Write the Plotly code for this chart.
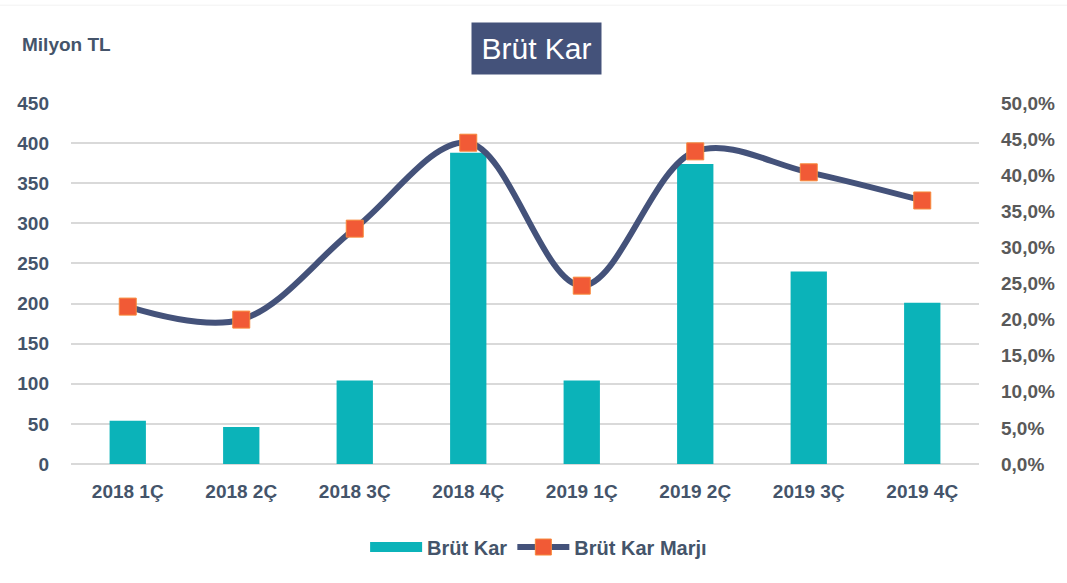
import plotly.graph_objects as go

categories = ["2018 1Ç", "2018 2Ç", "2018 3Ç", "2018 4Ç", "2019 1Ç", "2019 2Ç", "2019 3Ç", "2019 4Ç"]
brut_kar = [54, 46, 104, 388, 104, 374, 240, 201]
brut_kar_marji = [0.218, 0.200, 0.326, 0.445, 0.247, 0.433, 0.404, 0.365]
left_ticks = list(range(0, 451, 50))
right_ticks = [i / 100 for i in range(0, 51, 5)]

FONT = "Liberation Sans, Arial, sans-serif"
BLUEGRAY = "#44546A"
TEAL = "#0BB3B9"

fig = go.Figure()
fig.add_trace(go.Bar(
    x=categories, y=brut_kar, name="Brüt Kar",
    marker=dict(color=TEAL, line=dict(width=0)),
    yaxis="y", showlegend=False,
))
# legend entry styled as a wide teal swatch
fig.add_trace(go.Scatter(
    x=[None], y=[None], name="Brüt Kar", mode="lines",
    line=dict(color=TEAL, width=14), yaxis="y", showlegend=True,
))
fig.add_trace(go.Scatter(
    x=categories, y=brut_kar_marji, name="Brüt Kar Marjı",
    mode="lines+markers",
    line=dict(color="#44527A", width=6, shape="spline", smoothing=1.0),
    marker=dict(symbol="square", size=17, color="#F15A36", line=dict(color="#F7893B", width=1)),
    yaxis="y2",
))

fig.update_layout(
    width=1067, height=583,
    margin=dict(l=71, r=88, t=103, b=119, autoexpand=False),
    paper_bgcolor="white", plot_bgcolor="white",
    separators=",.",
    bargap=0.68,
    font=dict(family=FONT, size=19, color=BLUEGRAY),
    showlegend=True,
    legend=dict(
        orientation="h", x=0.515, xanchor="center", y=-0.23, yanchor="middle",
        font=dict(family=FONT, size=20, color=BLUEGRAY, weight="bold"),
        traceorder="normal", itemwidth=52,
    ),
    xaxis=dict(
        showgrid=False, showline=False, ticks="", automargin=False,
        tickfont=dict(family=FONT, size=19, color=BLUEGRAY, weight="bold"),
        ticklabelstandoff=14,
    ),
    yaxis=dict(
        range=[0, 450], tickvals=left_ticks, ticktext=[str(v) for v in left_ticks],
        showgrid=True, gridcolor="#D9D9D9", gridwidth=1.5,
        zeroline=True, zerolinecolor="#D9D9D9", zerolinewidth=1.5,
        showline=False, ticks="", automargin=False,
        tickfont=dict(family=FONT, size=19, color=BLUEGRAY, weight="bold"),
        ticklabelstandoff=21,
    ),
    yaxis2=dict(
        range=[0, 0.5], tickvals=right_ticks, tickformat=".1%",
        overlaying="y", side="right", automargin=False,
        showgrid=False, zeroline=False, showline=False, ticks="",
        tickfont=dict(family=FONT, size=19, color="#595959", weight="bold"),
        ticklabelstandoff=21,
    ),
)

fig.add_annotation(
    text="Milyon TL", xref="paper", yref="paper", x=-0.0562, y=1.161,
    xanchor="left", yanchor="middle", showarrow=False,
    font=dict(family=FONT, size=19, color=BLUEGRAY, weight="bold"),
)
fig.add_annotation(
    text="Brüt Kar", xref="paper", yref="paper",
    x=(536.5 - 71) / (979 - 71), y=(464 - 48.5) / (464 - 103),
    xanchor="center", yanchor="middle", showarrow=False,
    font=dict(family=FONT, size=30, color="white"),
    bgcolor="#44527A", width=127, height=49,
)
fig.add_shape(type="line", xref="paper", yref="paper", x0=-0.08, x1=1.1, y0=1.271, y1=1.271,
              line=dict(color="#F2F2F2", width=1))

fig.write_html("out.html", config={"displayModeBar": False},
               post_script="document.body.style.margin='0';")
